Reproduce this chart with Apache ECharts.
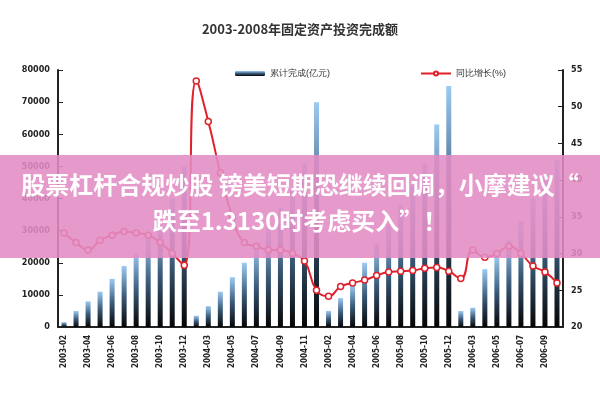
<!DOCTYPE html><html><head><meta charset="utf-8"><script src="https://cdn.jsdelivr.net/npm/echarts@6/dist/echarts.min.js"></script></head><body style="margin:0"><div id="c" style="width:600px;height:400px"></div><script>
const months=['02','03','04','05','06','07','08','09','10','11','12'];
const categories=[];
['2003','2004','2005','2006'].forEach((y,i)=>months.slice(0,i<3?11:9).forEach(m=>categories.push(y+'-'+m)));
const investValues=[1500,5000,8000,11000,15000,19000,23000,28000,33000,40000,50000,
3500,6500,11000,15500,20000,25000,31000,37000,43000,51000,70000,
5000,9000,13000,20000,26000,32000,38000,44000,51000,63000,75000,
5000,6000,18000,22000,27000,33000,40000,46000,52000];
const growthValues=[32.8,31.5,30.5,31.8,32.5,33,32.8,32.5,31.5,30,28.4,
53.5,48,41,35,31.5,31,30.5,30.5,30,29,25,
24.2,25.5,26,26.4,27,27.5,27.6,27.7,28,28.1,27.6,
26.6,30.5,29.5,30,31,30,28.3,27.5,26];
const leftTicks=[0,80000], rightTicks=[20,55];
const ch=echarts.init(document.getElementById('c'));
const lab={color:'#222',fontSize:9,fontWeight:'bold',fontFamily:'DejaVu Sans Condensed'};
ch.setOption({
animation:false,
title:{text:'2003-2008年固定资产投资完成额',left:'center',top:18,textStyle:{fontSize:13,fontWeight:'bold',color:'#333',fontFamily:'Noto Sans CJK SC'}},
legend:{top:64,left:230,itemGap:90,itemWidth:30,itemHeight:5,textStyle:{fontSize:9,color:'#333'},data:['累计完成(亿元)','同比增长(%)']},
grid:{left:58,right:37,top:70,bottom:73},
xAxis:{type:'category',data:categories,axisLine:{lineStyle:{color:'#222',width:2}},axisTick:{show:false},axisLabel:{...lab,rotate:90,interval:1,fontSize:8}},
yAxis:[{type:'value',min:leftTicks[0],max:leftTicks[1],interval:10000,splitLine:{show:false},axisLine:{show:true,lineStyle:{color:'#222',width:2}},axisTick:{show:true,inside:true},axisLabel:{...lab,formatter:v=>String(v)}},
{type:'value',min:rightTicks[0],max:rightTicks[1],interval:5,splitLine:{show:false},axisLine:{show:true,lineStyle:{color:'#222',width:2}},axisTick:{show:true,inside:true},axisLabel:lab}],
series:[{name:'累计完成(亿元)',type:'bar',data:investValues,barWidth:5,itemStyle:{color:new echarts.graphic.LinearGradient(0,0,0,1,[{offset:0,color:'#9ccaf2'},{offset:0.5,color:'#3b5b7a'},{offset:1,color:'#050505'}])}},
{name:'同比增长(%)',type:'line',yAxisIndex:1,data:growthValues,smooth:true,symbol:'circle',symbolSize:6,lineStyle:{color:'#e0202a',width:2},itemStyle:{color:'#fff',borderColor:'#e0202a',borderWidth:1.5}}],
graphic:[{type:'rect',shape:{x:0,y:155,width:600,height:103},style:{fill:'rgba(226,140,196,0.88)'},z:100},
{type:'text',left:'center',top:167,z:101,style:{text:'股票杠杆合规炒股 镑美短期恐继续回调，小摩建议“\n跌至1.3130时考虑买入”！',fill:'#fff',font:'bold 24px "Noto Sans CJK SC"',textAlign:'center',lineHeight:36}}]
});
</script></body></html>
